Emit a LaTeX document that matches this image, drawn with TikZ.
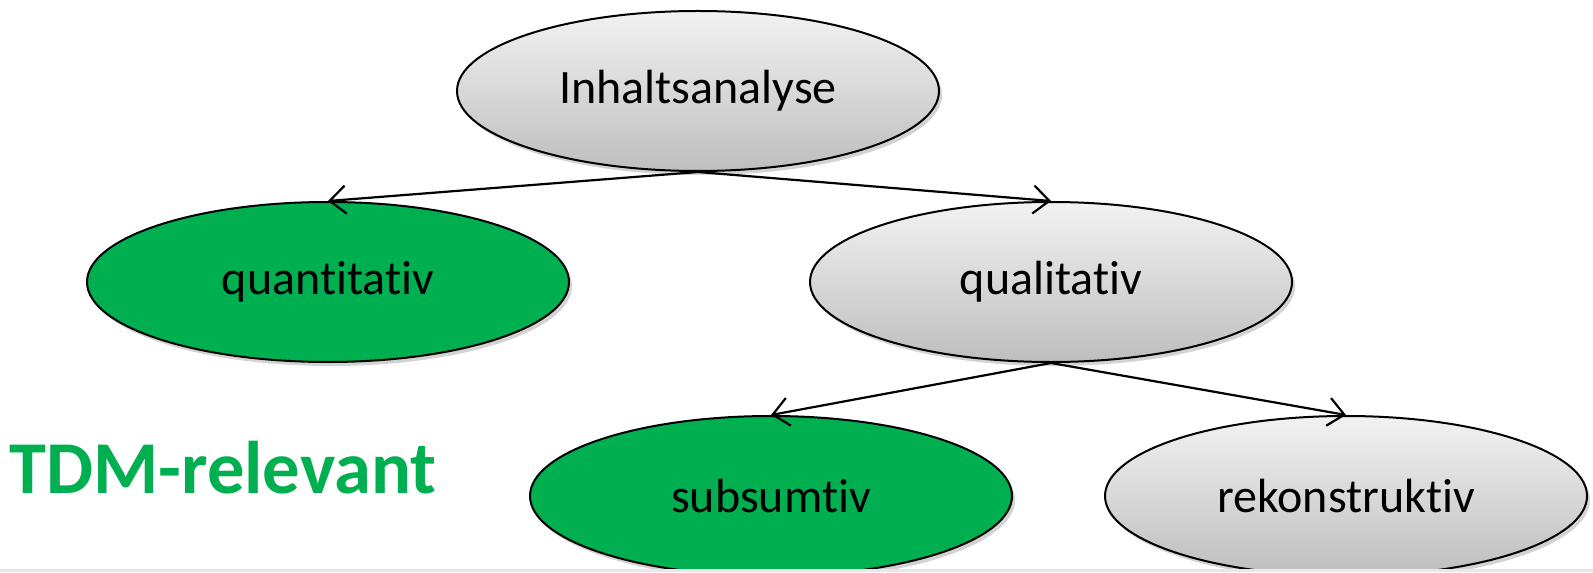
\documentclass[tikz,border=0pt]{standalone}
\usepackage{fontspec}
\setmainfont[RawFeature={-liga}]{Carlito}
\usetikzlibrary{shapes.geometric,shadows,arrows.meta}
\definecolor{gtop}{RGB}{242,242,242}
\definecolor{gbot}{RGB}{190,190,190}
\definecolor{tdmgreen}{RGB}{0,176,80}
\definecolor{strip}{RGB}{232,232,232}
\tikzset{
  oval/.style={ellipse, draw=black, line width=1pt, minimum width=241pt, minimum height=80pt, inner sep=0pt,
    font=\fontsize{24}{28}\selectfont, drop shadow={opacity=0.35, shadow xshift=1.5pt, shadow yshift=-2pt}},
  grayoval/.style={oval, top color=gtop, bottom color=gbot},
  greenoval/.style={oval, fill=tdmgreen},
  conn/.style={line width=1.1pt, -{Straight Barb[length=8pt,width=14pt,line width=1.1pt]}}
}
\begin{document}
\begin{tikzpicture}[x=0.5pt,y=-0.5pt]
\useasboundingbox (0,0) rectangle (1593,572);
\begin{scope}
\clip (0,0) rectangle (1593,569);
\node[grayoval] (inh) at (698,91) {Inhaltsanalyse};
\node[greenoval] (quant) at (328,282) {quantitativ};
\node[grayoval] (qual) at (1051,282) {qualitativ};
\node[greenoval] (subs) at (771,496) {subsumtiv};
\node[grayoval] (rek) at (1346,496) {rekonstruktiv};
\draw[conn] (inh.south) -- (quant.north);
\draw[conn] (inh.south) -- (qual.north);
\draw[conn] (qual.south) -- (subs.north);
\draw[conn] (qual.south) -- (rek.north);
\end{scope}
\node[anchor=west, inner sep=0pt, text=tdmgreen, font=\bfseries\fontsize{37.3}{44}\selectfont] (tdm) at (9,468) {TDM-relevant};
\fill[strip] (0,569) rectangle (1593,572);
\end{tikzpicture}
\end{document}
